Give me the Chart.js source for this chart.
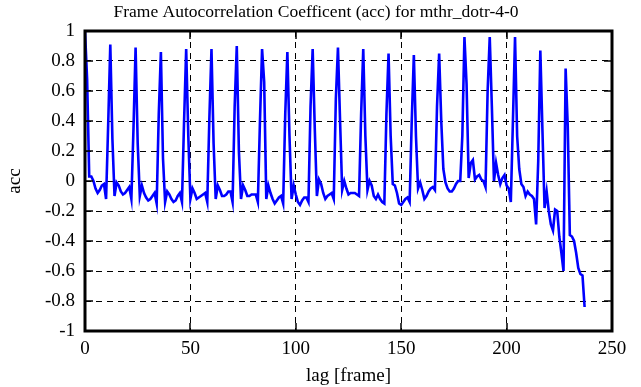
<!DOCTYPE html>
<html>
<head>
<meta charset="utf-8">
<script src="https://cdn.jsdelivr.net/npm/chart.js@4/dist/chart.umd.min.js"></script>
<style>
  html, body { margin: 0; padding: 0; background: #fff; }
  #wrap { width: 641px; height: 387px; }
</style>
</head>
<body>
<div id="wrap"><canvas id="myChart" width="641" height="387"></canvas></div>
<script>
// autocorrelation per lag (frame 0..237)
const acc = [
  1.00, 0.68, 0.03, 0.03, 0.00, -0.05, -0.08, -0.06, -0.03, -0.02, -0.12, 0.38,
  0.91, 0.28, -0.10, -0.01, -0.03, -0.07, -0.09, -0.08, -0.06, -0.04, -0.12, 0.35,
  0.89, 0.25, -0.10, -0.03, -0.08, -0.11, -0.13, -0.12, -0.10, -0.08, -0.15, 0.45,
  0.86, 0.15, -0.14, -0.07, -0.09, -0.12, -0.14, -0.13, -0.10, -0.08, -0.14, 0.40,
  0.88, 0.30, -0.12, -0.05, -0.08, -0.12, -0.11, -0.10, -0.09, -0.08, -0.14, 0.42,
  0.88, 0.25, -0.12, -0.03, -0.06, -0.10, -0.10, -0.09, -0.07, -0.07, -0.14, 0.50,
  0.90, 0.20, -0.12, -0.03, -0.06, -0.10, -0.10, -0.09, -0.09, -0.09, -0.14, 0.40,
  0.88, 0.66, -0.12, -0.03, -0.08, -0.12, -0.15, -0.13, -0.11, -0.10, -0.15, 0.45,
  0.86, 0.30, -0.12, -0.03, -0.09, -0.14, -0.16, -0.13, -0.11, -0.11, -0.14, 0.50,
  0.88, 0.35, -0.10, 0.01, -0.02, -0.08, -0.12, -0.10, -0.09, -0.08, -0.12, 0.55,
  0.89, 0.40, -0.06, 0.00, -0.05, -0.09, -0.08, -0.08, -0.08, -0.09, -0.10, 0.45,
  0.88, 0.30, -0.06, 0.00, -0.03, -0.10, -0.12, -0.09, -0.12, -0.14, -0.15, 0.45,
  0.85, 0.30, -0.02, -0.03, -0.08, -0.15, -0.16, -0.14, -0.12, -0.11, -0.14, 0.40,
  0.84, 0.30, -0.05, -0.01, -0.06, -0.12, -0.10, -0.07, -0.05, -0.04, -0.06, 0.50,
  0.85, 0.40, 0.08, -0.01, -0.05, -0.07, -0.07, -0.05, -0.02, 0.00, 0.00, 0.30,
  0.96, 0.65, 0.02, 0.12, 0.14, 0.01, 0.03, 0.04, 0.01, 0.00, -0.04, 0.60,
  0.96, 0.50, 0.00, 0.12, 0.04, -0.02, 0.02, 0.04, -0.03, -0.05, -0.14, 0.40,
  0.96, 0.30, 0.08, -0.02, -0.04, -0.10, -0.07, -0.09, -0.10, -0.12, -0.29, 0.13,
  0.87, 0.34, -0.18, -0.07, -0.20, -0.29, -0.33, -0.19, -0.20, -0.37, -0.48, -0.60,
  0.75, 0.37, -0.36, -0.37, -0.40, -0.48, -0.58, -0.62, -0.63, -0.84
];
const lags = acc.map((v, i) => i);

const xTicks = [0, 50, 100, 150, 200, 250];
const yTicks = [-1, -0.8, -0.6, -0.4, -0.2, 0, 0.2, 0.4, 0.6, 0.8, 1];
const titleText = 'Frame Autocorrelation Coefficent (acc) for mthr_dotr-4-0';

const serif = 'Liberation Serif';

// title + small solid ticks inside the frame, like the original plot
const frameStuff = {
  id: 'frameStuff',
  afterDraw(chart) {
    const c = chart.ctx;
    const a = chart.chartArea;
    const xs = chart.scales.x;
    const ys = chart.scales.y;
    c.save();
    c.fillStyle = '#000';
    c.font = '17.5px "' + serif + '"';
    c.textAlign = 'center';
    c.textBaseline = 'middle';
    c.fillText(titleText, 316, 12);

    c.strokeStyle = '#000';
    c.lineWidth = 1.5;
    c.beginPath();
    xTicks.forEach((t) => {
      const px = Math.round(xs.getPixelForValue(t));
      c.moveTo(px, a.bottom); c.lineTo(px, a.bottom - 8);
      c.moveTo(px, a.top); c.lineTo(px, a.top + 8);
    });
    yTicks.forEach((t) => {
      const py = Math.round(ys.getPixelForValue(t));
      c.moveTo(a.left, py); c.lineTo(a.left + 8, py);
      c.moveTo(a.right, py); c.lineTo(a.right - 8, py);
    });
    c.stroke();
    c.lineWidth = 3;
    c.strokeRect(a.left, a.top, a.right - a.left, a.bottom - a.top);
    c.restore();
  }
};

const ctx = document.getElementById('myChart').getContext('2d');
const myChart = new Chart(ctx, {
  type: 'line',
  data: {
    datasets: [
      {
        data: lags.map((l, i) => ({ x: l, y: acc[i] })),
        borderColor: '#0000ff',
        borderWidth: 2.6,
        pointRadius: 0,
        tension: 0,
        fill: false,
      },
    ],
  },
  options: {
    responsive: false,
    animation: false,
    layout: { padding: { left: 0, right: 29, top: 31, bottom: 0 } },
    plugins: {
      legend: { display: false },
      tooltip: { enabled: false },
      title: { display: false },
    },
    scales: {
      x: {
        type: 'linear',
        min: 0,
        max: 250,
        afterBuildTicks: (s) => { s.ticks = xTicks.map((v) => ({ value: v })); },
        afterFit: (s) => { s.height = 56; },
        ticks: {
          color: '#000',
          font: { family: serif, size: 19 },
          padding: 7,
          maxRotation: 0,
        },
        grid: {
          color: '#000',
          lineWidth: 1,
          drawTicks: false,
          tickLength: 0,
        },
        border: { display: false, dash: [6, 5] },
        title: {
          display: true,
          text: 'lag [frame]',
          color: '#000',
          font: { family: serif, size: 19 },
          padding: { top: 1, bottom: 0 },
        },
      },
      y: {
        min: -1,
        max: 1,
        afterBuildTicks: (s) => { s.ticks = yTicks.map((v) => ({ value: v })); },
        afterFit: (s) => { s.width = 85; },
        ticks: {
          color: '#000',
          font: { family: serif, size: 19 },
          padding: 10,
          callback: (v) => String(Math.round(v * 10) / 10),
        },
        grid: {
          color: '#000',
          lineWidth: 1,
          drawTicks: false,
          tickLength: 0,
        },
        border: { display: false, dash: [6, 5] },
        title: {
          display: true,
          text: 'acc',
          color: '#000',
          font: { family: serif, size: 19 },
          padding: { top: 4, bottom: 0 },
        },
      },
    },
  },
  plugins: [frameStuff],
});
</script>
</body>
</html>
